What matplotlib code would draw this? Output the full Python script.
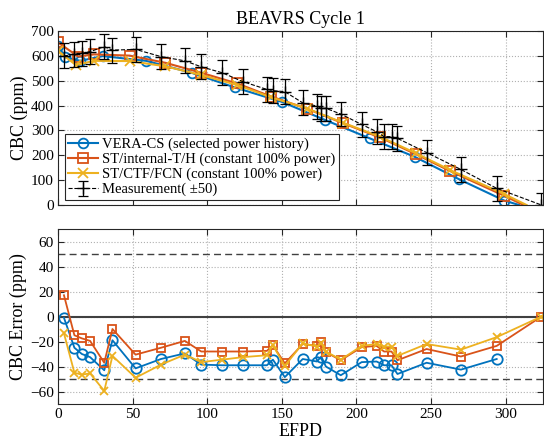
"""BEAVRS cycle 1 critical boron concentration vs EFPD."""
import numpy as np
import matplotlib
matplotlib.use("Agg")
import matplotlib.pyplot as plt

plt.rcParams["font.family"] = ["Liberation Serif", "DejaVu Serif"]
plt.rcParams["mathtext.fontset"] = "stix"

# -------------------------------------------------------
# Data.
# -------------------------------------------------------
# calculated CBC curves (top panel):
vera_efpd = [0, 5, 15, 30, 59, 89.5, 118.5, 150, 179, 209, 239, 269, 299, 309]
vera_cbc = [640, 594, 580, 599, 580, 532, 473, 415, 342, 268, 194, 103, 18, 0]
st_th_efpd = [0, 13.6, 24, 48, 72, 96, 120, 143, 167, 191, 215.7, 239.6, 263, 298.7, 312]
st_th_cbc = [654, 597, 606, 601, 572, 532, 489, 436, 387, 329, 272, 205, 136, 38, 0]
st_ctf_efpd = [0, 12, 24, 48, 72, 96, 120, 143, 167, 191, 215.7, 239.6, 263, 298.7, 314]
st_ctf_cbc = [620, 563, 580, 579, 558, 523, 483, 433, 388, 331, 275, 209, 140, 45, 0]

# measurement:
meas_efpd = [4, 11, 16, 21.5, 31, 36.5, 52, 69, 85, 96, 110, 124, 140, 144, 152,
             164, 173.5, 176.5, 179.5, 189.5, 203.5, 213.5, 218.5, 223.5, 227.5,
             247, 270, 294, 324]
meas_cbc = [600, 606, 610, 617, 637, 623, 626, 597, 580, 556, 532, 496, 465, 460, 456,
            411, 398, 389, 389, 366, 324, 295, 275, 275, 268,
            211, 143, 67, 0]
meas_unc = 50

# errors (bottom panel):
err_efpd = meas_efpd
vera_err = [-1, -25, -30, -32.5, -43, -19, -41.5, -34, -29.5, -38.5, -39, -39, -39, -34.5, -48.5,
            -34, -36, -32, -40, -47, -36.5, -36, -39, -39, -46,
            -37, -42.5, -34]
st_th_err = [17, -15, -17.5, -19.5, -37, -10, -30.5, -25, -19.5, -28, -28, -28, -27.5, -23, -37.5,
             -22, -23.5, -20.5, -28.5, -35, -24.5, -23.5, -28, -28, -35,
             -26, -32, -23.5, 0]
st_ctf_err = [-13.5, -45, -46.5, -45.5, -59.5, -31.5, -49, -38.5, -30.5, -36.5, -34.5, -32.5, -31, -23, -39.5,
              -21.5, -24, -21.5, -28, -34.5, -23.5, -22, -24, -24, -31.5,
              -22, -26.5, -16.5, 0]

# matlab default colours:
c_blue = "#0072BD"
c_orange = "#D95319"
c_yellow = "#EDB120"

# -------------------------------------------------------
# Plot.
# -------------------------------------------------------
fig = plt.figure(figsize=(5.44, 4.48), dpi=100)
ax1 = fig.add_axes([0.1066, 0.5424, 0.8915, 0.3884])
ax2 = fig.add_axes([0.1066, 0.0982, 0.8915, 0.3906])

# top panel:
l1, = ax1.plot(vera_efpd, vera_cbc, "-o", color=c_blue, lw=1.5, ms=7,
               mfc="none", mew=1.3, markevery=list(range(len(vera_efpd) - 1)),
               label="VERA-CS (selected power history)")
l2, = ax1.plot(st_th_efpd, st_th_cbc, "-s", color=c_orange, lw=1.5, ms=6.5,
               mfc="none", mew=1.3, markevery=list(range(len(st_th_efpd) - 1)),
               label="ST/internal-T/H (constant 100% power)")
l3, = ax1.plot(st_ctf_efpd, st_ctf_cbc, "-x", color=c_yellow, lw=1.5, ms=6.5,
               mew=1.3, markevery=list(range(len(st_ctf_efpd) - 1)),
               label="ST/CTF/FCN (constant 100% power)")
eb = ax1.errorbar(meas_efpd, meas_cbc, yerr=meas_unc, fmt="+--", color="black",
                  lw=0.8, elinewidth=0.9, capsize=3.5, capthick=0.9, ms=8,
                  label="Measurement( ±50)")

ax1.set_xlim(0, 325)
ax1.set_ylim(0, 700)
ax1.set_xticks(np.arange(0, 301, 50))
ax1.set_xticklabels([])
ax1.set_yticks(np.arange(0, 701, 100))
ax1.set_ylabel("CBC (ppm)", fontsize=13, labelpad=2)
ax1.set_title("BEAVRS Cycle 1", fontsize=13, pad=5)
leg = ax1.legend(handles=[l1, l2, l3, eb], loc="lower left",
                 bbox_to_anchor=(0.014, 0.028), fontsize=10.5, frameon=True,
                 fancybox=False, edgecolor="#262626", framealpha=1,
                 borderpad=0.25, labelspacing=0.12, handlelength=2.0,
                 handletextpad=0.3, borderaxespad=0)
leg.get_frame().set_linewidth(0.8)

# bottom panel:
ax2.axhline(0, color="#404040", lw=1.5, zorder=1)
ax2.axhline(50, color="#404040", lw=1.0, ls=(0, (5, 3)), zorder=1)
ax2.axhline(-50, color="#404040", lw=1.0, ls=(0, (5, 3)), zorder=1)
ax2.plot(err_efpd[:len(vera_err)], vera_err, "-o", color=c_blue, lw=1.3, ms=7.5,
         mfc="none", mew=1.3)
ax2.plot(err_efpd, st_th_err, "-s", color=c_orange, lw=1.3, ms=6,
         mfc="none", mew=1.3)
ax2.plot(err_efpd, st_ctf_err, "-x", color=c_yellow, lw=1.3, ms=6, mew=1.3)

ax2.set_xlim(0, 325)
ax2.set_ylim(-70, 70)
ax2.set_xticks(np.arange(0, 301, 50))
ax2.set_yticks(np.arange(-60, 61, 20))
ax2.set_xlabel("EFPD", fontsize=13, labelpad=1)
ax2.set_ylabel("CBC Error (ppm)", fontsize=13, labelpad=2)

for ax in (ax1, ax2):
    ax.grid(True, ls=":", color="#b0b0b0", lw=0.8)
    ax.set_axisbelow(True)
    ax.tick_params(direction="in", top=True, right=True, labelsize=11,
                   length=4, color="#262626", pad=3)
    for sp in ax.spines.values():
        sp.set_color("#262626")
        sp.set_linewidth(0.8)

plt.savefig("out.png", dpi=100)
